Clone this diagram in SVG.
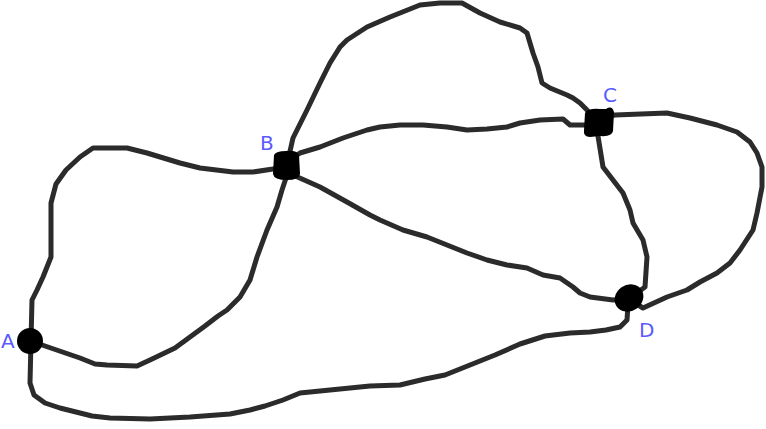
<svg xmlns="http://www.w3.org/2000/svg" width="766" height="429" viewBox="0 0 766 429">
<style>
.edge{fill:none;stroke:#2b2b2b;stroke-width:5;stroke-linejoin:round;stroke-linecap:round}
.node{fill:#000}
.lbl{font-family:"DejaVu Sans",sans-serif;font-size:20px;fill:#5a5aff}
</style>
<rect width="766" height="429" fill="#fff"/>
<g id="connectors">
<path class="edge" d="M31,341 L32,300 L37,290 L43,277 L51,257 L51,203 L56,184 L66,170 L80,157 L93,148 L127,148 L147,153 L180,163 L200,168 L233,172 L253,172 L273,169 L286,166"/>
<path class="edge" d="M31,341 L45,346 L80,358 L95,364 L107,365 L137,366 L150,360 L175,348 L190,337 L205,326 L218,316 L227,310 L240,297 L250,280 L257,257 L267,230 L277,207 L282,190 L287,175 L288,166"/>
<path class="edge" d="M31,341 L30,383 L34,395 L45,403 L60,408 L80,413 L92,416 L110,418 L150,419 L190,417 L230,414 L250,410 L265,406 L283,400 L300,393 L330,390 L370,386 L400,385 L425,379 L445,375 L465,367 L495,355 L520,344 L545,336 L570,333 L590,332 L606,330 L620,327 L627,320 L628,305"/>
<path class="edge" d="M288,160 L293,138 L307,110 L320,83 L330,63 L340,47 L347,40 L367,27 L390,17 L420,5 L440,3 L462,3 L480,13 L500,22 L520,28 L527,33 L533,53 L538,67 L542,83 L550,88 L567,95 L573,98 L580,103 L587,110 L595,120"/>
<path class="edge" d="M290,160 L300,153 L320,147 L343,138 L367,130 L380,127 L400,125 L423,125 L447,127 L467,130 L487,129 L507,127 L520,123 L540,120 L563,119 L570,125 L598,125"/>
<path class="edge" d="M597,122 L597,130 L603,167 L613,180 L623,193 L630,210 L633,223 L643,240 L647,257 L645,287 L630,298"/>
<path class="edge" d="M600,118 L615,115 L667,113 L690,118 L717,125 L737,132 L750,142 L757,153 L762,167 L762,187 L757,213 L753,230 L740,250 L730,263 L717,273 L700,282 L687,290 L667,297 L643,308 L630,300"/>
<path class="edge" d="M286,166 L293,175 L320,187 L347,202 L370,215 L380,220 L403,230 L427,237 L467,253 L487,260 L507,265 L527,268 L543,275 L560,278 L573,287 L580,293 L590,297 L613,300 L628,299"/>
</g>
<g id="node-A">
<circle class="node" cx="30" cy="341" r="13"/>
<text class="lbl" x="1" y="348">A</text>
</g>
<g id="node-B">
<path class="node" d="M274,155 Q276,151 286,151 Q297,150 299,155 L300,174 Q299,180 287,180 Q274,180 273,174 Z"/>
<text class="lbl" x="260" y="150">B</text>
</g>
<g id="node-C">
<path class="node" d="M585,113 Q588,108 600,109 L606,109 Q612,105 614,112 L613,131 Q612,137 600,136 L590,137 Q583,137 584,130 Z"/>
<text class="lbl" x="603" y="102">C</text>
</g>
<g id="node-D">
<ellipse class="node" cx="629" cy="298" rx="15" ry="13" transform="rotate(-35 629 298)"/>
<text class="lbl" x="639" y="337">D</text>
</g>
</svg>
